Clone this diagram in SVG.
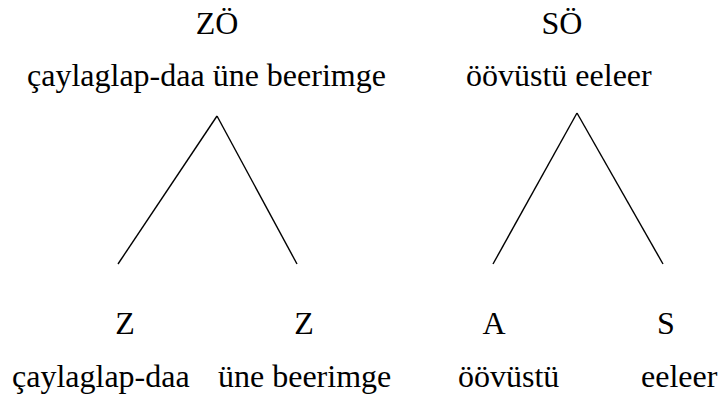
<svg xmlns="http://www.w3.org/2000/svg" width="720" height="400" viewBox="0 0 720 400">
<style>
text{font-family:'Liberation Serif','Times New Roman',Times,'DejaVu Serif',serif;font-size:32px;fill:#000}
.c{text-anchor:middle}
line{stroke:#000;stroke-width:1.4;fill:none}
</style>
<rect width="720" height="400" fill="#fff"/>
<g id="connectors">
<line x1="217" y1="116" x2="118" y2="264"/>
<line x1="217" y1="116" x2="297" y2="264"/>
<line x1="577" y1="113" x2="493" y2="264"/>
<line x1="577" y1="113" x2="663" y2="264"/>
</g>
<g id="node-ZO" font-family="Liberation Serif, serif">
<text class="c" x="217" y="34">ZÖ</text>
<text x="27" y="86">çaylaglap-daa üne beerimge</text>
</g>
<g id="node-SO">
<text class="c" x="562" y="34">SÖ</text>
<text x="466" y="86">öövüstü eeleer</text>
</g>
<g id="node-Z1">
<text class="c" x="125" y="334">Z</text>
<text x="12" y="387">çaylaglap-daa</text>
</g>
<g id="node-Z2">
<text class="c" x="304" y="334">Z</text>
<text x="218" y="387">üne beerimge</text>
</g>
<g id="node-A">
<text class="c" x="494" y="334">A</text>
<text x="458" y="387">öövüstü</text>
</g>
<g id="node-S">
<text class="c" x="666" y="334">S</text>
<text x="641" y="387">eeleer</text>
</g>
</svg>
